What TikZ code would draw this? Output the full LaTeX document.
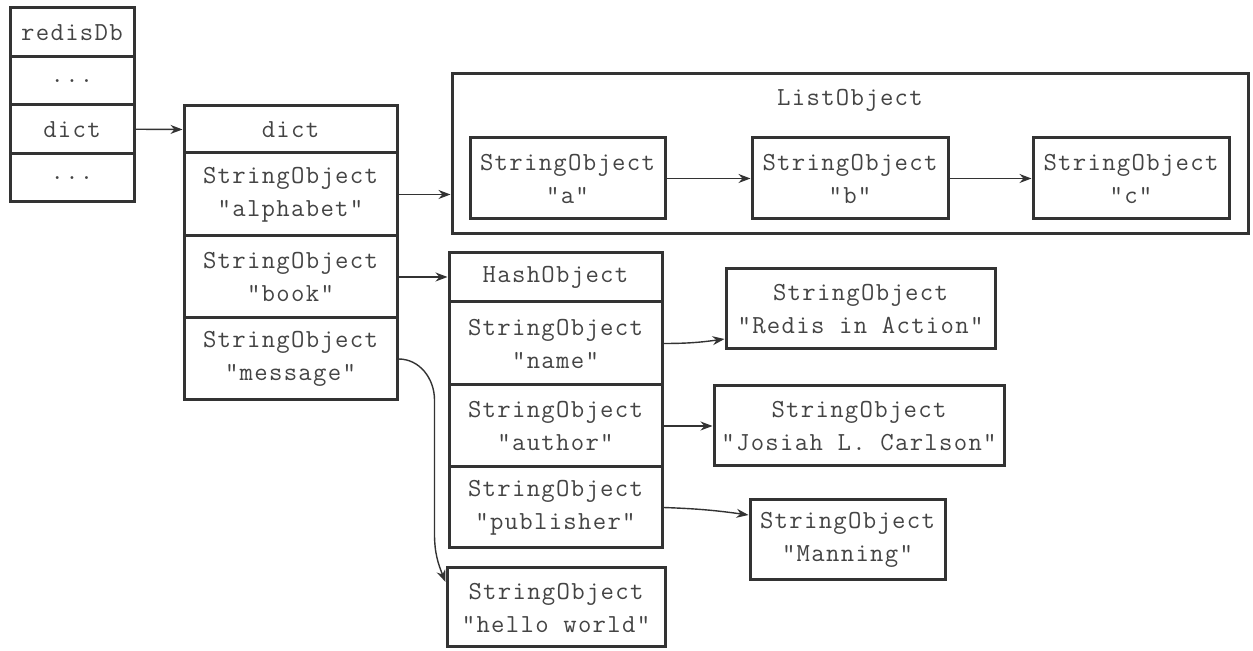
\documentclass[tikz,border=0pt]{standalone}
\usepackage{fontspec}
\setmonofont{Latin Modern Mono}[LetterSpace=5]
\usepackage{xcolor}
\usetikzlibrary{arrows.meta}

\definecolor{linec}{HTML}{333333}
\definecolor{textc}{HTML}{444444}
\tikzset{
  cell/.style 2 args={draw=linec, line width=1.5pt, text=textc, align=center, inner sep=0pt,
    minimum width=#1pt, minimum height=#2pt, font=\fontsize{13}{16.5}\selectfont\ttfamily},
  arr/.style={draw=linec, line width=0.7pt, -{Stealth[length=6pt,width=4.5pt]}}
}

\begin{document}
\begin{tikzpicture}[x=1pt, y=1pt]
        \useasboundingbox (0,0) rectangle (626.5,-325.5);

        % redisDb
        \node[cell={62}{24.25}] (db)    at (36,-16.125) {redisDb};
        \node[cell={62}{24.25}] (dbA)   at (36,-40.375) {...};
        \node[cell={62}{24.25}] (dbDict) at (36,-64.625) {dict};
        \node[cell={62}{24.25}] (dbB)   at (36,-88.875) {...};

        % dict
        \node[cell={106.5}{23.5}] (dict)  at (145.25,-64.75) {dict};
        \node[cell={106.5}{41.5}] (kAlpha) at (145.25,-97.25) {StringObject\\"alphabet"};
        \node[cell={106.5}{41}]   (kBook)  at (145.25,-138.5) {StringObject\\"book"};
        \node[cell={106.5}{41}]   (kMsg)   at (145.25,-179.5) {StringObject\\"message"};

        % ListObject
        \node[cell={398}{80}] (list) at (425,-77) {};
        \node[cell={0}{0}, draw=none] (listTitle) at (425,-50) {ListObject};
        \node[cell={97.5}{40.5}] (la) at (283.75,-89.25) {StringObject\\"a"};
        \node[cell={98}{40.5}]   (lb) at (425,-89.25)    {StringObject\\"b"};
        \node[cell={98}{40.5}]   (lc) at (565.5,-89.25)  {StringObject\\"c"};

        % HashObject
        \node[cell={106.5}{24.5}] (hash)  at (277.75,-138.75) {HashObject};
        \node[cell={106.5}{41.5}] (hName) at (277.75,-171.75) {StringObject\\"name"};
        \node[cell={106.5}{41}]   (hAuth) at (277.75,-213)    {StringObject\\"author"};
        \node[cell={106.5}{40.5}] (hPub)  at (277.75,-253.75) {StringObject\\"publisher"};

        % 值对象
        \node[cell={109}{39.5}]  (vHello)  at (278,-303.75)   {StringObject\\"hello world"};
        \node[cell={134.5}{40}]  (vRedis)  at (430.25,-154.5) {StringObject\\"Redis in Action"};
        \node[cell={145}{40}]    (vJosiah) at (429.5,-213)    {StringObject\\"Josiah L. Carlson"};
        \node[cell={97.5}{40}]   (vMan)    at (423.75,-270)   {StringObject\\"Manning"};

        % 指针
        \draw[arr] (dbDict.east) -- (dict.west);
        \draw[arr] (kAlpha.east) -- (list.west |- kAlpha.east);
        \draw[arr] (la.east) -- (lb.west);
        \draw[arr] (lb.east) -- (lc.west);
        \draw[arr] (kBook.east) -- (hash.west |- kBook.east);
        \draw[arr] (kMsg.east) to[out=0,in=90] ++(18,-20.5) -- ++(0,-67)
                   to[out=-90,in=112] ([yshift=12.75pt]vHello.west);
        \draw[arr] (hName.east) to[out=0,in=188] ([yshift=-15pt]vRedis.west);
        \draw[arr] (hAuth.east) -- (vJosiah.west);
        \draw[arr] (hPub.east) to[out=-2,in=172] ([yshift=12.5pt]vMan.west);
    \end{tikzpicture}
\end{document}
